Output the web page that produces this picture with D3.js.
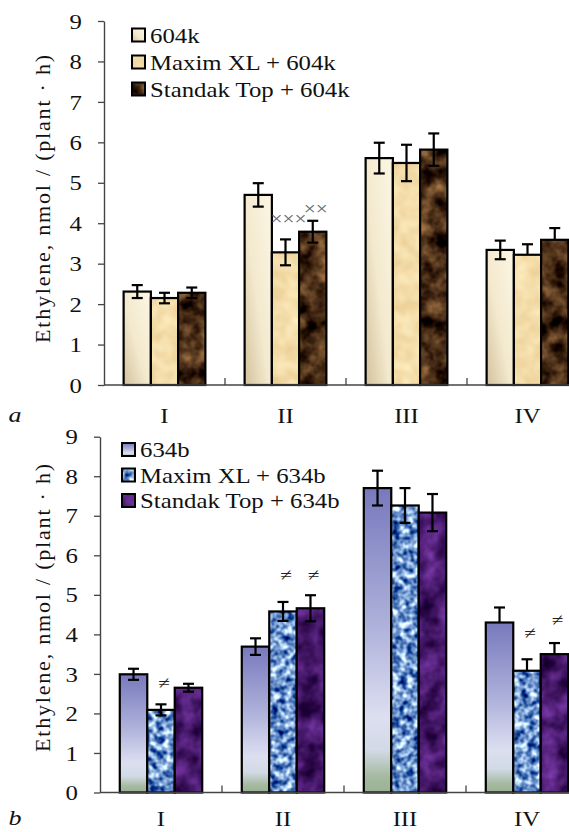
<!DOCTYPE html>
<html>
<head>
<meta charset="utf-8">
<script src="https://cdnjs.cloudflare.com/ajax/libs/d3/7.8.5/d3.min.js"></script>
<style>
  body { margin: 0; background: #fff; }
  svg { display: block; }
  text { font-family: "Liberation Serif", "Times New Roman", serif; fill: #111; }
</style>
</head>
<body>
<script>
// categories and y tick values (shared by both panels)
var categories = ["I", "II", "III", "IV"];
var yTickValues = [0, 1, 2, 3, 4, 5, 6, 7, 8, 9];

// panel a
var seriesA = ["604k", "Maxim XL + 604k", "Standak Top + 604k"];
var valuesA = [[2.31, 4.70, 5.61, 3.34], [2.15, 3.28, 5.49, 3.22], [2.28, 3.79, 5.82, 3.59]];
var errorsA = [[0.16, 0.29, 0.38, 0.23], [0.13, 0.32, 0.45, 0.26], [0.13, 0.27, 0.40, 0.29]];
var lowerErrA = [[1, 1, 1, 1], [1, 1, 1, 0], [1, 1, 1, 0]];
var marksA = [["II", 1, "×××", 4.11], ["II", 2, "××", 4.36]];

// panel b
var seriesB = ["634b", "Maxim XL + 634b", "Standak Top + 634b"];
var valuesB = [[2.99, 3.69, 7.70, 4.30], [2.09, 4.58, 7.26, 3.08], [2.65, 4.66, 7.08, 3.50]];
var errorsB = [[0.14, 0.21, 0.44, 0.38], [0.14, 0.24, 0.44, 0.29], [0.10, 0.33, 0.47, 0.28]];
var lowerErrB = [[1, 1, 1, 0], [1, 1, 1, 0], [1, 1, 1, 0]];
var marksB = [["I", 1, "≠", 2.77], ["II", 1, "≠", 5.51], ["II", 2, "≠", 5.51], ["IV", 1, "≠", 4.04], ["IV", 2, "≠", 4.37]];

var W = 569, H = 832;
var SX = 1.18; // text looks a bit stretched sideways in the picture

var svg = d3.select("body").append("svg")
    .attr("width", W)
    .attr("height", H);

svg.append("rect").attr("width", W).attr("height", H).attr("fill", "#fff");

var defs = svg.append("defs");

// gradients
function gradient(id, x1, y1, x2, y2, stops) {
  var g = defs.append("linearGradient").attr("id", id)
      .attr("x1", x1).attr("y1", y1).attr("x2", x2).attr("y2", y2);
  stops.forEach(function(s) {
    g.append("stop").attr("offset", s[0]).attr("stop-color", s[1]);
  });
}
gradient("gA0", 1, 0, 0, 1, [[0, "#fcf6e4"], [0.55, "#f3e9ce"], [1, "#d3c29c"]]);
gradient("gB0", 0, 0, 0, 1, [[0, "#7779bd"], [0.45, "#aeb1da"], [0.75, "#dcdff0"],
                             [0.86, "#d2dae6"], [0.95, "#a4b99e"], [1, "#9ab294"]]);

// noise textures (turbulence mapped to a colour range)
function texture(id, freq, oct, seed, dark, light) {
  var f = defs.append("filter").attr("id", id)
      .attr("x", 0).attr("y", 0).attr("width", 1).attr("height", 1)
      .attr("color-interpolation-filters", "sRGB");
  f.append("feTurbulence").attr("type", "fractalNoise")
      .attr("baseFrequency", freq).attr("numOctaves", oct).attr("seed", seed).attr("result", "n");
  var rows = [0, 1, 2].map(function(c) {
    var k = (light[c] - dark[c]) / 0.3;
    var b = (light[c] + dark[c]) / 2 - k * 0.5;
    return k.toFixed(3) + " 0 0 0 " + b.toFixed(3);
  });
  f.append("feColorMatrix").attr("in", "n").attr("type", "matrix")
      .attr("values", rows.join(" ") + " 0 0 0 0 1").attr("result", "c");
  f.append("feComposite").attr("in", "c").attr("in2", "SourceGraphic").attr("operator", "in");
}
texture("tA1", 0.07, 2, 3, [0.94, 0.84, 0.63], [0.97, 0.89, 0.70]);
texture("tA2", 0.06, 3, 7, [0.15, 0.07, 0.02], [0.44, 0.30, 0.17]);
texture("tB1", 0.14, 2, 5, [0.14, 0.32, 0.62], [0.72, 0.84, 0.97]);
texture("tB2", 0.05, 3, 9, [0.19, 0.04, 0.31], [0.36, 0.15, 0.52]);

function txt(g, x, y, s, anchor, size) {
  return g.append("text")
      .attr("transform", "translate(" + x + "," + y + ") scale(" + SX + ",1)")
      .attr("text-anchor", anchor)
      .style("font-size", size + "px")
      .text(s);
}

function drawPanel(o) {
  var g = svg.append("g");

  var y = d3.scaleLinear().domain([0, 9]).range([o.y0, o.y9]);
  var x0 = d3.scaleBand().domain(categories)
      .range([o.xLeft, o.xLeft + categories.length * o.step]);
  var x1 = d3.scaleBand().domain([0, 1, 2])
      .range([0, x0.bandwidth()]).paddingOuter(0.72);
  var bw = x1.bandwidth();

  // bars
  o.values.forEach(function(vals, s) {
    var fill = o.fills[s];
    var rows = vals.map(function(v, i) { return {cat: categories[i], v: v}; });

    var bars = g.append("g").selectAll("g").data(rows).join("g");
    bars.append("rect")
        .attr("x", function(d) { return x0(d.cat) + x1(s); })
        .attr("y", function(d) { return y(d.v); })
        .attr("width", bw)
        .attr("height", function(d) { return y(0) - y(d.v); })
        .attr("fill", fill.grad ? "url(#" + fill.grad + ")" : "#000")
        .attr("filter", fill.tex ? "url(#" + fill.tex + ")" : null);
    bars.append("rect")
        .attr("x", function(d) { return x0(d.cat) + x1(s); })
        .attr("y", function(d) { return y(d.v); })
        .attr("width", bw)
        .attr("height", function(d) { return y(0) - y(d.v); })
        .attr("fill", "none")
        .attr("stroke", "#000")
        .attr("stroke-width", 2.2);
  });

  // error bars
  o.values.forEach(function(vals, s) {
    vals.forEach(function(v, i) {
      var cx = x0(categories[i]) + x1(s) + bw / 2;
      var e = o.errors[s][i];
      var lo = o.lower[s][i] ? v - e : v;
      var eg = g.append("g").attr("stroke", "#000").attr("stroke-width", 2.2);
      eg.append("line").attr("x1", cx).attr("x2", cx).attr("y1", y(v + e)).attr("y2", y(lo));
      eg.append("line").attr("x1", cx - 5.5).attr("x2", cx + 5.5).attr("y1", y(v + e)).attr("y2", y(v + e));
      if (o.lower[s][i]) {
        eg.append("line").attr("x1", cx - 5.5).attr("x2", cx + 5.5).attr("y1", y(lo)).attr("y2", y(lo));
      }
    });
  });

  // significance marks
  o.marks.forEach(function(m) {
    var cx = x0(m[0]) + x1(m[1]) + bw / 2 + 3;
    txt(g, cx, y(m[3]), m[2], "middle", o.markSize)
        .attr("dy", "0.35em")
        .style("fill", o.markColor);
  });

  // y axis
  var ya = g.append("g")
      .attr("transform", "translate(" + o.xLeft + ",0)")
      .call(d3.axisLeft(y).tickValues(yTickValues).tickSize(6).tickSizeOuter(0));
  ya.select(".domain").attr("stroke", "#444").attr("stroke-width", 1.4);
  ya.selectAll(".tick line").attr("stroke", "#444").attr("stroke-width", 1.3);
  ya.selectAll(".tick text")
      .attr("x", null).attr("dy", "0.34em")
      .attr("transform", "translate(-22,0) scale(" + SX + ",1)")
      .style("font-size", "21px")
      .style("font-family", "'Liberation Serif', serif")
      .attr("fill", "#111");

  // x axis line with separator ticks between categories
  var xa = g.append("g").attr("transform", "translate(0," + o.y0 + ")");
  xa.append("line").attr("x1", o.xLeft).attr("x2", W)
      .attr("stroke", "#444").attr("stroke-width", 1.4);
  xa.selectAll("line.sep").data(categories.slice(1)).join("line")
      .attr("class", "sep")
      .attr("x1", function(d) { return x0(d); })
      .attr("x2", function(d) { return x0(d); })
      .attr("y1", 0).attr("y2", -7)
      .attr("stroke", "#444").attr("stroke-width", 1.3);
  categories.forEach(function(c) {
    txt(xa, x0(c) + x0.bandwidth() / 2, o.labelDy, c, "middle", 21);
  });

  // panel letter
  txt(g, 15, o.letterY, o.letter, "middle", 22).style("font-style", "italic");

  // y axis title
  g.append("text")
      .attr("transform", "translate(" + o.titleX + "," + o.titleY + ") rotate(-90)")
      .attr("text-anchor", "middle")
      .style("font-size", "22px")
      .style("letter-spacing", "1.8px")
      .text("Ethylene, nmol / (plant · h)");

  // legend
  o.series.forEach(function(name, s) {
    var ly = o.legY + s * o.legStep;
    var fill = o.fills[s];
    g.append("rect").attr("x", o.legX).attr("y", ly - 6.5).attr("width", 13).attr("height", 13)
        .attr("fill", fill.grad ? "url(#" + fill.grad + ")" : "#000")
        .attr("filter", fill.tex ? "url(#" + fill.tex + ")" : null);
    g.append("rect").attr("x", o.legX).attr("y", ly - 6.5).attr("width", 13).attr("height", 13)
        .attr("fill", "none").attr("stroke", "#000").attr("stroke-width", 2);
    txt(g, o.legX + 18, ly + 7.5, name, "start", 21);
  });
}

drawPanel({
  series: seriesA, values: valuesA, errors: errorsA, lower: lowerErrA, marks: marksA,
  fills: [{grad: "gA0"}, {tex: "tA1"}, {tex: "tA2"}],
  y0: 385, y9: 21, xLeft: 104, step: 121,
  labelDy: 38, letter: "a", letterY: 422,
  titleX: 50, titleY: 198,
  legX: 132, legY: 35, legStep: 27,
  markSize: 18, markColor: "#666"
});

drawPanel({
  series: seriesB, values: valuesB, errors: errorsB, lower: lowerErrB, marks: marksB,
  fills: [{grad: "gB0"}, {tex: "tB1"}, {tex: "tB2"}],
  y0: 792.5, y9: 436.7, xLeft: 100, step: 122,
  labelDy: 33, letter: "b", letterY: 825,
  titleX: 50, titleY: 607,
  legX: 122, legY: 449.5, legStep: 25.5,
  markSize: 18, markColor: "#222"
});
</script>
</body>
</html>
